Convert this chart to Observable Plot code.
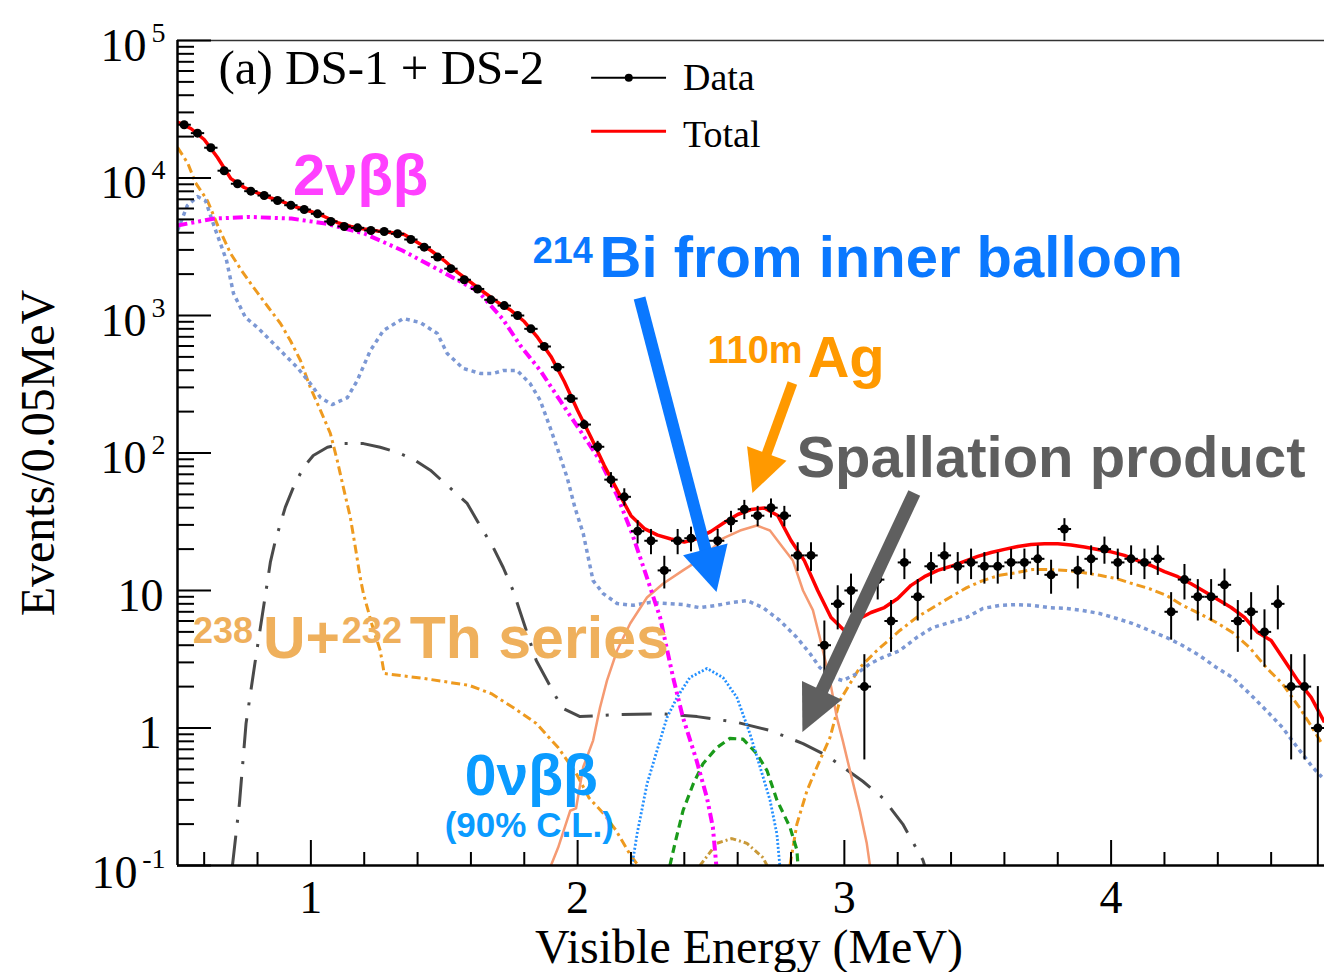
<!DOCTYPE html>
<html>
<head>
<meta charset="utf-8">
<script src="https://cdn.jsdelivr.net/npm/d3@7"></script>
<script src="https://cdn.jsdelivr.net/npm/@observablehq/plot@0.6"></script>
<style>
html,body{margin:0;padding:0;background:#fff;}
svg{display:block;}
</style>
</head>
<body>
<div id="chart"></div>
<script>
// ---------------- DATA ----------------
// Data: events per 0.05 MeV bin (bin centres 0.525 ... 4.775 MeV)
const dataCounts = [24400,21200,16600,11300,9080,8020,7460,6860,6340,5900,
  5490,4830,4440,4340,4150,4080,3930,3570,3140,2660,
  2190,1820,1560,1300,1180,1000,800,595,421,249,
  161,111,64,48,27,23,14,23,24,23,
  23,32,39,35,40,35,18,18,4,8,
  10,2,12,6,16,9,15,18,15,16,
  15,15,16,16,17,13,28,14,17,20,
  16,17,16,17,7,12,9,9,11,6,
  7,5,8,2,2,1];
const binCenters = dataCounts.map((_, i) => +(0.525 + 0.05 * i).toFixed(3));

// Total fit, sampled every 0.05 MeV from 0.5 to 4.8 MeV
const totalV = [25500,22900,19050,14100,9900,8530,7780,7160,6640,6100,
  5710,5250,4740,4440,4260,4120,4020,3880,3400,2970,
  2510,2060,1740,1470,1250,1090,904,692,504,331,
  204,130,81,53,35,28.2,25.3,23.7,22.5,23.9,
  26.9,31.2,35.7,38.8,39.8,35.1,23.1,16.5,10,6.37,
  5.12,6.15,6.92,7.52,8.75,10.9,12.6,14.0,15.0,16.3,
  17.7,18.9,19.9,20.9,21.6,21.9,21.9,21.4,20.7,19.9,
  19.1,18.0,16.5,15.2,13.7,12.6,11.2,9.84,8.61,7.52,
  6.37,4.95,4.33,3.1,2.21,1.67,1.1];
const totalE = totalV.map((_, i) => +(0.5 + 0.05 * i).toFixed(2));

// 2nu beta beta
const nu2E = [0.5,0.639,0.77,0.927,1.054,1.2,1.343,1.485,1.627,1.72,1.785,1.86,1.934,2.009,2.084,2.148,2.204,2.26,2.309,2.358,2.395,2.446,2.485,2.507,2.52];
const nu2V = [4520,5070,5210,5070,4670,3950,2970,2120,1500,940,605,398,241,146,88,49,26,12.4,6.4,2.33,1.19,0.58,0.31,0.19,0.1];

// 214Bi from inner balloon
const biE = [0.5,0.537,0.575,0.605,0.639,0.684,0.71,0.755,0.8,0.886,0.949,0.998,1.036,1.08,1.137,1.174,1.223,1.272,1.346,1.41,1.474,1.511,1.571,1.635,1.684,1.721,1.773,1.822,1.86,1.897,1.927,1.961,1.99,2.021,2.058,2.096,2.148,2.208,2.272,2.335,2.395,2.459,2.522,2.582,2.635,2.695,2.758,2.822,2.871,2.908,2.957,2.994,3.047,3.097,3.144,3.208,3.271,3.331,3.395,3.459,3.519,3.582,3.646,3.706,3.77,3.833,3.893,3.957,4.021,4.081,4.144,4.208,4.268,4.331,4.395,4.455,4.519,4.582,4.642,4.706,4.755,4.79];
const biV = [4150,6310,7330,6830,4365,2510,1445,966,818,556,419,320,253,225,253,337,556,778,951,889,740,530,412,379,379,398,398,320,241,153,104,66,40,26,11.8,9.5,8.04,7.8,8.2,8.04,7.9,7.5,7.8,8.2,8.45,7.5,6.05,4.55,3.48,2.75,2.33,2.21,2.49,2.94,3.26,3.66,4.55,5.38,5.85,6.37,7.4,7.8,7.9,7.8,7.5,7.4,7.16,6.8,6.26,5.75,5.12,4.55,3.98,3.37,2.75,2.33,1.78,1.34,1.01,0.69,0.52,0.44];

// 238U + 232Th series (low-energy part)
const uthE = [0.5,0.539,0.567,0.612,0.654,0.699,0.74,0.785,0.841,0.886,0.923,0.961,0.998,1.036,1.073,1.099,1.122,1.148,1.167,1.185,1.197,1.23,1.26,1.275,1.425,1.594,1.676,1.758,1.845,1.927,1.994,2.043,2.096,2.144,2.197,2.227];
const uthV = [16700,12750,9270,6860,4365,2825,2125,1600,1143,875,658,471,299,204,139,88,56,34,20.5,12.4,9.5,5.56,3.66,2.49,2.29,2.04,1.78,1.41,1.08,0.72,0.47,0.31,0.24,0.18,0.12,0.1];

// orange dash-dot component at high energy
const hiE = [2.796,2.822,2.86,2.897,2.946,2.983,3.021,3.058,3.122,3.208,3.271,3.331,3.395,3.459,3.519,3.582,3.646,3.706,3.77,3.833,3.893,3.957,4.021,4.081,4.144,4.208,4.268,4.331,4.395,4.455,4.519,4.582,4.642,4.706,4.755,4.79];
const hiV = [0.1,0.2,0.35,0.52,0.85,1.58,2.1,2.75,3.66,5.12,6.37,7.5,8.9,10.5,11.8,12.9,13.5,14.2,14.2,14.0,13.5,12.9,12.2,11.2,10.3,9.2,7.8,6.8,5.85,4.95,3.85,2.75,2.1,1.41,1.0,0.77];

// gray long dash-dot (spallation product / external)
const spE = [0.706,0.732,0.757,0.79,0.836,0.848,0.867,0.904,0.934,0.972,1.009,1.062,1.122,1.197,1.26,1.324,1.384,1.448,1.534,1.586,1.624,1.684,1.721,1.758,1.845,1.912,1.944,2.009,2.148,2.309,2.448,2.597,2.721,2.845,2.934,2.994,3.069,3.144,3.219,3.294,3.301];
const spV = [0.1,0.28,1.08,2.94,11.2,16,23.1,40.2,56,78.5,96,110,117,117,110,101,90,75,53,43,32,20.5,14.7,10,3.1,1.78,1.39,1.21,1.25,1.27,1.21,1.1,0.96,0.77,0.63,0.52,0.41,0.31,0.2,0.11,0.1];

// 110mAg
const agE = [1.9,1.927,1.972,1.994,2.021,2.058,2.084,2.11,2.148,2.197,2.26,2.32,2.395,2.47,2.545,2.609,2.672,2.721,2.77,2.807,2.845,2.882,2.908,2.946,2.972,2.994,3.021,3.058,3.084,3.096];
const agV = [0.1,0.135,0.25,0.26,0.52,0.81,1.41,2.21,3.66,5.75,8.9,11.2,14.0,17.4,23.9,27.3,29.7,27.3,20.5,16.5,10,7.2,4.55,2.21,1.19,0.81,0.49,0.25,0.145,0.1];

// 0nu beta beta (90% C.L.)
const nu0E = [2.204,2.223,2.26,2.298,2.335,2.373,2.421,2.485,2.545,2.597,2.646,2.684,2.721,2.747,2.758];
const nu0V = [0.1,0.17,0.39,0.69,1.19,1.67,2.33,2.71,2.33,1.67,0.91,0.52,0.3,0.17,0.1];

// green dashed component
const grE = [2.346,2.365,2.395,2.433,2.47,2.522,2.571,2.62,2.672,2.71,2.747,2.796,2.822,2.826];
const grV = [0.1,0.145,0.25,0.39,0.55,0.72,0.84,0.83,0.65,0.49,0.3,0.19,0.13,0.1];

// small gold dash-dot component
const auE = [2.459,2.522,2.578,2.635,2.695,2.71];
const auV = [0.1,0.145,0.157,0.145,0.114,0.1];

// axis ticks
const xMajor = [1, 2, 3, 4];
const xMinor = [0.6,0.8,1.2,1.4,1.6,1.8,2.2,2.4,2.6,2.8,3.2,3.4,3.6,3.8,4.2,4.4,4.6];
const yDecades = [0.1, 1, 10, 100, 1000, 10000, 100000];
const yMinor = [0.1, 1, 10, 100, 1000, 10000].flatMap(d => [2,3,4,5,6,7,8,9].map(k => d * k));
const yExpTicks = [100000, 10000, 1000, 100];
const yExpLabels = ["5", "4", "3", "2"];

// ---------------- LAYOUT / STYLE ----------------
const W = 1324, H = 972, mL = 177, mR = 0, mT = 40, mB = 107;
const frameW = W - mL - mR, frameH = H - mT - mB;
const serif = "'Liberation Serif','Times New Roman',serif";
const sans = "'Liberation Sans',Arial,Helvetica,sans-serif";

const rows = (E, V) => E.map((e, i) => ({e, v: V[i]}));
const comp = (E, V, o) => Plot.line(rows(E, V), {x: "e", y: "v", clip: true, strokeLinejoin: "round", strokeLinecap: "butt", ...o});

const dataRows = binCenters.map((e, i) => {
  const n = dataCounts[i], s = Math.sqrt(n);
  return {e, n, lo: Math.max(n - s, 0.1), hi: n + s, e1: e - 0.025, e2: e + 0.025};
});

const txt = (e, v, text, size, color, family = sans, weight = "bold") =>
  Plot.text([{e, v}], {x: "e", y: "v", text: () => text, textAnchor: "start", lineAnchor: "bottom",
    fontSize: size, fontWeight: weight, fill: color, fontFamily: family});

const plot = Plot.plot({
  width: W, height: H,
  marginLeft: mL, marginRight: mR, marginTop: mT, marginBottom: mB,
  x: {domain: [0.5, 4.8], axis: null},
  y: {type: "log", domain: [0.1, 1e5], axis: null},
  style: {background: "#fff", fontFamily: serif, overflow: "visible"},
  marks: [
    // components
    comp(spE, spV, {stroke: "#4a4a4a", strokeWidth: 3, strokeDasharray: "30,13,3,13"}),
    comp(uthE, uthV, {stroke: "#ee9a1f", strokeWidth: 3, strokeDasharray: "9,4,3,4"}),
    comp(hiE, hiV, {stroke: "#ee9a1f", strokeWidth: 3, strokeDasharray: "9,4,3,4"}),
    comp(biE, biV, {stroke: "#7c98d4", strokeWidth: 3.5, strokeDasharray: "4,4"}),
    comp(agE, agV, {stroke: "#f59a72", strokeWidth: 2.5}),
    comp(auE, auV, {stroke: "#c99a3a", strokeWidth: 3, strokeDasharray: "6,3,2,3"}),
    comp(grE, grV, {stroke: "#1a9a1a", strokeWidth: 3.2, strokeDasharray: "8,5"}),
    comp(nu0E, nu0V, {stroke: "#2490ff", strokeWidth: 2.8, strokeDasharray: "2,2"}),
    comp(nu2E, nu2V, {stroke: "#ff00ff", strokeWidth: 4, strokeDasharray: "10,4,3,4,3,4"}),
    // total
    comp(totalE, totalV, {stroke: "#ff0000", strokeWidth: 3.5}),
    // data
    Plot.ruleX(dataRows, {x: "e", y1: "lo", y2: "hi", stroke: "#000", strokeWidth: 2, clip: true}),
    Plot.link(dataRows, {x1: "e1", x2: "e2", y1: "n", y2: "n", stroke: "#000", strokeWidth: 2}),
    Plot.dot(dataRows, {x: "e", y: "n", r: 4.5, fill: "#000"}),
    // frame
    Plot.ruleY([1e5], {stroke: "#333", strokeWidth: 1.5}),
    Plot.ruleX([0.5], {stroke: "#000", strokeWidth: 2.5}),
    Plot.ruleY([0.1], {stroke: "#000", strokeWidth: 2.5}),
    // ticks (inward)
    Plot.tickX(xMajor, {x: d => d, insetTop: frameH - 25, stroke: "#000", strokeWidth: 2}),
    Plot.tickX(xMinor, {x: d => d, insetTop: frameH - 13, stroke: "#000", strokeWidth: 2}),
    Plot.tickY(yDecades, {y: d => d, insetRight: frameW - 34, stroke: "#000", strokeWidth: 2}),
    Plot.tickY(yMinor, {y: d => d, insetRight: frameW - 17, stroke: "#000", strokeWidth: 2}),
    // tick labels
    Plot.text(xMajor, {x: d => d, frameAnchor: "bottom", dy: 47, text: d => String(d), lineAnchor: "bottom", fontSize: 46, fontFamily: serif, fill: "#000"}),
    Plot.text(yExpTicks, {y: d => d, frameAnchor: "left", dx: -31, dy: 20, text: () => "10", textAnchor: "end", lineAnchor: "bottom", fontSize: 46, fontFamily: serif, fill: "#000"}),
    Plot.text(yExpTicks, {y: d => d, frameAnchor: "left", dx: -12, dy: 1, text: (d, i) => yExpLabels[i], textAnchor: "end", lineAnchor: "bottom", fontSize: 28, fontFamily: serif, fill: "#000"}),
    Plot.text([10], {y: d => d, frameAnchor: "left", dx: -14, dy: 20, text: () => "10", textAnchor: "end", lineAnchor: "bottom", fontSize: 46, fontFamily: serif, fill: "#000"}),
    Plot.text([1], {y: d => d, frameAnchor: "left", dx: -16, dy: 20, text: () => "1", textAnchor: "end", lineAnchor: "bottom", fontSize: 46, fontFamily: serif, fill: "#000"}),
    Plot.text([0.1], {y: d => d, frameAnchor: "left", dx: -40, dy: 22, text: () => "10", textAnchor: "end", lineAnchor: "bottom", fontSize: 46, fontFamily: serif, fill: "#000"}),
    Plot.text([0.1], {y: d => d, frameAnchor: "left", dx: -12, dy: 2, text: () => "-1", textAnchor: "end", lineAnchor: "bottom", fontSize: 28, fontFamily: serif, fill: "#000"}),
    // axis titles
    Plot.text(["Visible Energy (MeV)"], {frameAnchor: "bottom", dx: -2, dy: 97, text: d => d, textAnchor: "middle", lineAnchor: "bottom", fontSize: 48, fontFamily: serif, fill: "#000"}),
    Plot.text(["Events/0.05MeV"], {frameAnchor: "left", dx: -124, text: d => d, rotate: -90, textAnchor: "middle", lineAnchor: "bottom", fontSize: 48, fontFamily: serif, fill: "#000"}),
    // panel label + legend
    txt(0.6536, 48640, "(a) DS-1 + DS-2", 49, "#000", serif, "normal"),
    Plot.link([{a: 2.0506, b: 2.3315, v: 53550}], {x1: "a", x2: "b", y1: "v", y2: "v", stroke: "#000", strokeWidth: 2}),
    Plot.dot([{e: 2.1918, v: 53550}], {x: "e", y: "v", r: 4, fill: "#000"}),
    Plot.link([{a: 2.0506, b: 2.3315, v: 21900}], {x1: "a", x2: "b", y1: "v", y2: "v", stroke: "#ff0000", strokeWidth: 3}),
    txt(2.395, 44000, "Data", 38, "#000", serif, "normal"),
    txt(2.395, 16670, "Total", 38, "#000", serif, "normal"),
  ]
});

document.getElementById("chart").appendChild(plot);

// ---------------- ARROWS & ANNOTATIONS (via Plot scales) ----------------
const sx = plot.scale("x"), sy = plot.scale("y");
const svg = d3.select(plot);
const arrows = [
  {from: [2.2341, 1329], to: [2.5225, 9.67], color: "#0a78ff", w: 12, hl: 44, hw: 46},
  {from: [2.8071, 320], to: [2.6573, 50.8], color: "#ff9900", w: 10, hl: 42, hw: 42},
  {from: [3.264, 50.8], to: [2.8446, 0.927], color: "#5f5f5f", w: 13, hl: 46, hw: 44}
];
const ag = svg.append("g");
for (const a of arrows) {
  const x1 = sx.apply(a.from[0]), y1 = sy.apply(a.from[1]);
  const x2 = sx.apply(a.to[0]), y2 = sy.apply(a.to[1]);
  const L = Math.hypot(x2 - x1, y2 - y1), ux = (x2 - x1) / L, uy = (y2 - y1) / L;
  const bx = x2 - ux * a.hl, by = y2 - uy * a.hl, px = -uy, py = ux;
  ag.append("line").attr("x1", x1).attr("y1", y1).attr("x2", bx + ux * 2).attr("y2", by + uy * 2)
    .attr("stroke", a.color).attr("stroke-width", a.w);
  ag.append("polygon").attr("fill", a.color)
    .attr("points", [[x2, y2], [bx + px * a.hw / 2, by + py * a.hw / 2], [bx - px * a.hw / 2, by - py * a.hw / 2]].map(p => p.join(",")).join(" "));
}

const notes = [
  {e: 0.9345, v: 7460, t: "2νββ", s: 58, c: "#ff40ff"},
  {e: 1.8333, v: 2388, t: "214", s: 36, c: "#0a78ff"},
  {e: 2.0843, v: 1890, t: "Bi from inner balloon", s: 58, c: "#0a78ff"},
  {e: 2.4888, v: 448, t: "110m", s: 38, c: "#ff9900"},
  {e: 2.8633, v: 354, t: "Ag", s: 58, c: "#ff9900"},
  {e: 2.822, v: 66.4, t: "Spallation product", s: 58, c: "#5f5f5f"},
  {e: 0.5599, v: 4.12, t: "238", s: 36, c: "#efb05c"},
  {e: 0.822, v: 3.2, t: "U+", s: 59, c: "#efb05c"},
  {e: 1.118, v: 4.12, t: "232", s: 36, c: "#efb05c"},
  {e: 1.3727, v: 3.2, t: "Th series", s: 59, c: "#efb05c"},
  {e: 1.5787, v: 0.323, t: "0νββ", s: 57, c: "#0a9bff"},
  {e: 1.5037, v: 0.16, t: "(90% C.L.)", s: 35, c: "#0a9bff"}
];
const tg = svg.append("g").attr("font-family", sans).attr("font-weight", "bold").attr("text-anchor", "start");
for (const n of notes) {
  tg.append("text").attr("x", sx.apply(n.e)).attr("y", sy.apply(n.v))
    .attr("text-anchor", "start")
    .attr("font-size", n.s).attr("fill", n.c).text(n.t);
}
</script>
</body>
</html>
